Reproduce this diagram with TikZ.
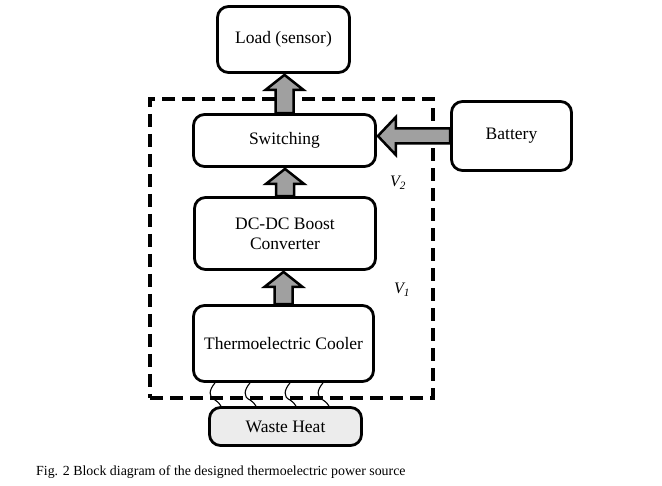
\documentclass[tikz,border=0pt]{standalone}
\usepackage{fontspec}
\setmainfont{Liberation Serif}
\usetikzlibrary{calc}
\definecolor{arrgray}{RGB}{160,160,160}
\definecolor{heatfill}{RGB}{236,236,236}
\newcommand\fatup[2]{%
  \draw[fatarr] let \p1=(#1.north), \p2=(#2.south) in
    (\x1-9pt,\y1) -- (\x1-9pt,\y2-16pt) -- (\x1-19pt,\y2-16pt) -- (\x1,\y2-1pt)
    -- (\x1+19pt,\y2-16pt) -- (\x1+9pt,\y2-16pt) -- (\x1+9pt,\y1) -- cycle;}
\newcommand\fatleft[2]{%
  \draw[fatarr] let \p1=(#1.west), \p2=(#2.east) in
    (\x1,\y1-7.5pt) -- (\x2+19pt,\y1-7.5pt) -- (\x2+19pt,\y1-19pt) -- (\x2+1pt,\y1)
    -- (\x2+19pt,\y1+19pt) -- (\x2+19pt,\y1+7.5pt) -- (\x1,\y1+7.5pt) -- cycle;}
\begin{document}
\begin{tikzpicture}[x=1pt,y=-1pt,
  blk/.style={draw, line width=2.8pt, rounded corners=11pt, align=center,
    inner sep=0pt, font=\fontsize{17.5}{20}\selectfont},
  fatarr/.style={draw, line width=2.5pt, fill=arrgray, line join=miter},
  sysbox/.style={draw, line width=3.5pt, dash pattern=on 13pt off 7pt, inner sep=0pt},
  wave/.style={line width=1.1pt},
  vlab/.style={font=\fontsize{16}{18}\selectfont\itshape, inner sep=0pt}]
\useasboundingbox (0,0) rectangle (662,486);
\node[sysbox, minimum width=283pt, minimum height=299pt] (sys) at (291.5,248.5) {};
\node[blk, minimum width=132pt, minimum height=66pt] (load) at (283.5,39.5) {Load (sensor)};
\node[blk, minimum width=182pt, minimum height=52pt] (sw) at (284.5,140.5) {Switching};
\node[blk, minimum width=181pt, minimum height=72pt] (dc) at (285,233.5) {DC-DC Boost\\Converter};
\node[blk, minimum width=180pt, minimum height=76pt] (tec) at (283.5,343.5) {Thermoelectric Cooler};
\node[blk, fill=heatfill, minimum width=152pt, minimum height=38pt] (heat) at (285.5,426.5) {Waste Heat};
\node[blk, minimum width=120pt, minimum height=69pt] (bat) at (511.5,136) {Battery};
\fatup{sw}{load}
\fatup{dc}{sw}
\fatup{tec}{dc}
\fatleft{bat}{sw}
\foreach \xx in {215,250,290,323}{
  \draw[wave] (\xx,0 |- tec.south) .. controls (\xx-6,390) and (\xx-7,397) .. (\xx,400)
    .. controls (\xx+3,402) and (\xx+5,404) .. (\xx+6,0 |- heat.north);
}
\node[vlab] (v2) at (398,183) {V\textsubscript{2}};
\node[vlab] (v1) at (402,290) {V\textsubscript{1}};
\node[anchor=west, inner sep=0pt, font=\fontsize{13.9}{16}\selectfont] (cap) at (36,472)
  {Fig. 2 Block diagram of the designed thermoelectric power source};
\end{tikzpicture}
\end{document}
